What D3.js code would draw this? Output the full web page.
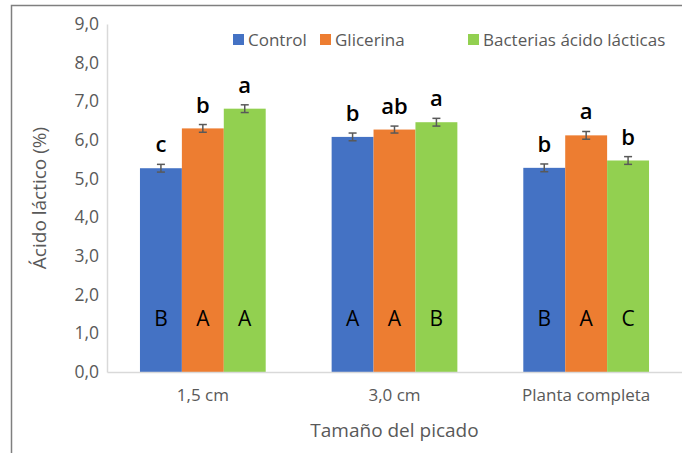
<!DOCTYPE html>
<html><head><meta charset="utf-8">
<script src="https://cdn.jsdelivr.net/npm/d3@7"></script>
<style>body{margin:0;background:#fff}svg{display:block}text{font-family:"Open Sans",sans-serif}</style>
</head><body>
<svg id="c" width="682" height="453"></svg>
<script>
const categories = ["1,5 cm", "3,0 cm", "Planta completa"];
const seriesNames = ["Control", "Glicerina", "Bacterias ácido lácticas"];
const control = [5.27, 6.08, 5.28];
const glicerina = [6.30, 6.27, 6.12];
const bacterias = [6.81, 6.46, 5.47];
const errControl = [0.10, 0.10, 0.10];
const errGlicerina = [0.10, 0.09, 0.10];
const errBacterias = [0.10, 0.10, 0.10];
const lowerLetters = [["c","b","a"],["b","ab","a"],["b","a","b"]];
const upperLetters = [["B","A","A"],["A","A","B"],["B","A","C"]];
const yTicks = [0,1,2,3,4,5,6,7,8,9];
const colors = ["#4472C4", "#ED7D31", "#92D050"];

const svg = d3.select("#c");
const m = {left:107, right:682, top:24, bottom:372};
const x = d3.scaleBand().domain(categories).range([m.left, m.right]).paddingInner(0.344).paddingOuter(0.172);
const xs = d3.scaleBand().domain(seriesNames).range([0, x.bandwidth()]);
const y = d3.scaleLinear().domain([0,9]).range([m.bottom, m.top]);
const fmt = d => d.toFixed(1).replace(".", ",");

// outer frame
svg.append("path").attr("d","M11.5,453 V5.5 H682").attr("fill","none").attr("stroke","#7f7f7f").attr("stroke-width",1.5);

// y axis
const ya = svg.append("g").attr("transform",`translate(${m.left},0)`)
  .call(d3.axisLeft(y).tickValues(yTicks).tickFormat(fmt).tickSize(0).tickPadding(8));
ya.select(".domain").attr("stroke","#d9d9d9").attr("stroke-width",1.5);
ya.selectAll("text").attr("font-size",17.5).attr("fill","#595959").attr("font-family","Open Sans");

const vals = [control, glicerina, bacterias];
const errs = [errControl, errGlicerina, errBacterias];
const data = [];
categories.forEach((c,i)=>seriesNames.forEach((s,j)=>data.push({c,s,i,j,v:vals[j][i],e:errs[j][i]})));

svg.append("g").selectAll("rect").data(data).join("rect")
  .attr("x",d=>x(d.c)+xs(d.s)).attr("width",xs.bandwidth())
  .attr("y",d=>y(d.v)).attr("height",d=>y(0)-y(d.v)).attr("fill",d=>colors[d.j]);

// x axis
const xa = svg.append("g").attr("transform",`translate(0,${m.bottom})`)
  .call(d3.axisBottom(x).tickSize(0).tickPadding(17));
xa.select(".domain").attr("stroke","#d9d9d9").attr("stroke-width",1.5);
xa.selectAll("text").attr("font-size",17).attr("fill","#595959").attr("font-family","Open Sans");

// error bars
const eb = svg.append("g").attr("stroke","#595959").attr("stroke-width",1.5);
data.forEach(d=>{
  const cx = x(d.c)+xs(d.s)+xs.bandwidth()/2;
  eb.append("line").attr("x1",cx).attr("x2",cx).attr("y1",y(d.v+d.e)).attr("y2",y(d.v-d.e));
  eb.append("line").attr("x1",cx-4).attr("x2",cx+4).attr("y1",y(d.v+d.e)).attr("y2",y(d.v+d.e));
  eb.append("line").attr("x1",cx-4).attr("x2",cx+4).attr("y1",y(d.v-d.e)).attr("y2",y(d.v-d.e));
});

// letters
svg.append("g").selectAll("text").data(data).join("text")
  .attr("x",d=>x(d.c)+xs(d.s)+xs.bandwidth()/2).attr("y",d=>y(d.v+d.e)-12)
  .attr("text-anchor","middle").attr("font-size",22).attr("font-weight",600).attr("fill","#000")
  .text(d=>lowerLetters[d.i][d.j]);
svg.append("g").selectAll("text").data(data).join("text")
  .attr("x",d=>x(d.c)+xs(d.s)+xs.bandwidth()/2).attr("y",y(1.2))
  .attr("text-anchor","middle").attr("font-size",21).attr("fill","#000")
  .text(d=>upperLetters[d.i][d.j]);

// axis titles
svg.append("text").attr("transform",`translate(46,${(y(0)+y(9))/2}) rotate(-90)`)
  .attr("text-anchor","middle").attr("font-size",19).attr("fill","#595959").text("Ácido láctico (%)");
svg.append("text").attr("x",(m.left+m.right)/2).attr("y",437)
  .attr("text-anchor","middle").attr("font-size",19).attr("fill","#595959").text("Tamaño del picado");

// legend
const legX = [233, 320, 468];
const lg = svg.append("g");
seriesNames.forEach((s,j)=>{
  lg.append("rect").attr("x",legX[j]).attr("y",34).attr("width",11).attr("height",11).attr("fill",colors[j]);
  lg.append("text").attr("x",legX[j]+15).attr("y",46).attr("font-size",17).attr("fill","#595959").text(s);
});
</script>
</body></html>
